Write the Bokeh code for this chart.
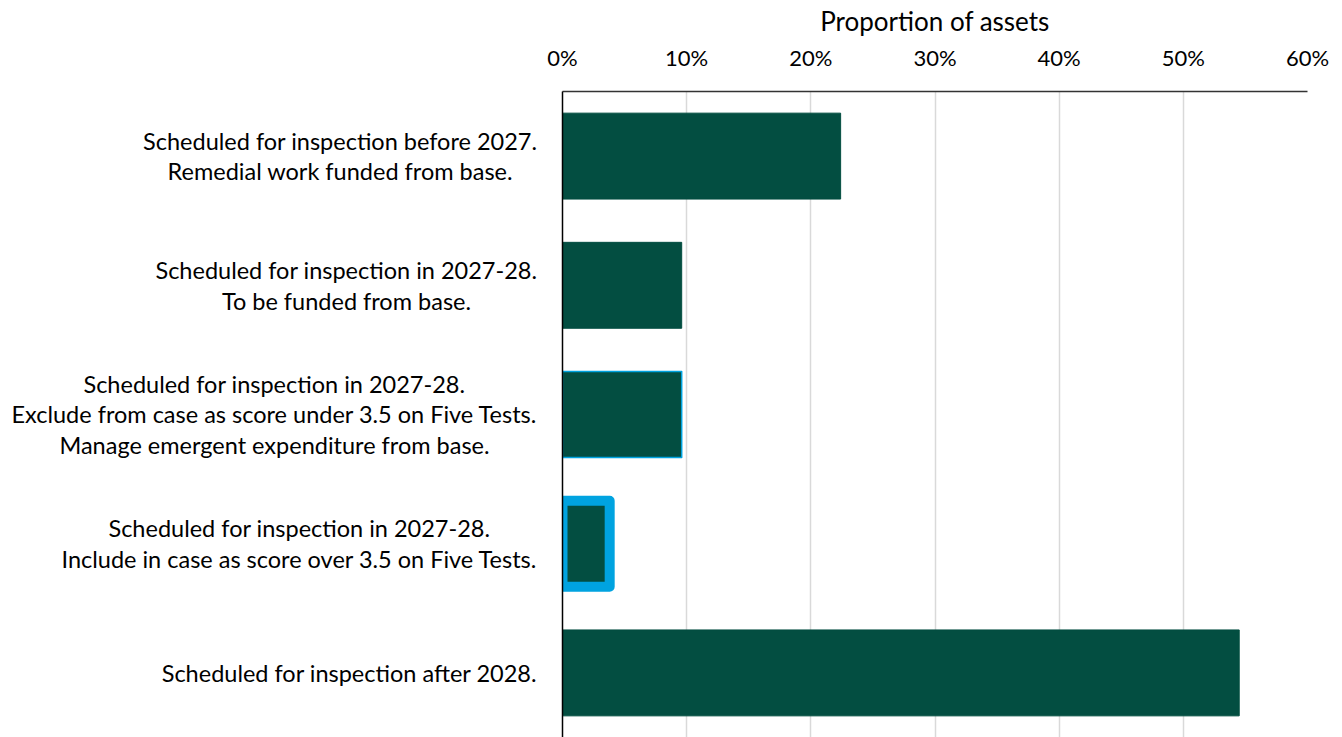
from bokeh.plotting import figure
from bokeh.layouts import row
from bokeh.models import FactorRange, FixedTicker, NumeralTickFormatter, ColumnDataSource, Label
from bokeh.embed import file_html
from bokeh.resources import INLINE

categories = [
    "Scheduled for inspection before 2027.\nRemedial work funded from base.",
    "Scheduled for inspection in 2027-28.\nTo be funded from base.",
    "Scheduled for inspection in 2027-28.\nExclude from case as score under 3.5 on Five Tests.\nManage emergent expenditure from base.",
    "Scheduled for inspection in 2027-28.\nInclude in case as score over 3.5 on Five Tests.",
    "Scheduled for inspection after 2028.",
]
values = [0.224, 0.096, 0.096, 0.038, 0.545]
x_ticks = [0.0, 0.1, 0.2, 0.3, 0.4, 0.5, 0.6]

FONT = "Lato"
BAR = "#034e41"
BLUE = "#00a3e0"

line_colors = [BAR, BAR, BLUE, BLUE, BAR]
line_widths = [1, 1, 1.5, 10, 1]

src = ColumnDataSource(dict(cat=categories, val=values, lc=line_colors, lw=line_widths))

factors = list(reversed(categories))
yr = FactorRange(factors=factors, range_padding=0)

LEFT_W = 542
TOTAL_W = 1342
H = 737

# ---- label panel (left) ----
lab = figure(
    width=LEFT_W, height=H, y_range=yr, x_range=(0, 1),
    x_axis_location=None, y_axis_location=None,
    output_backend="svg", toolbar_location=None,
    min_border_left=0, min_border_right=0, min_border_top=91, min_border_bottom=0,
)
lab.outline_line_color = None
lab.xgrid.visible = False
lab.ygrid.visible = False
for cat in categories:
    lab.add_layout(Label(
        x=1, y=factors.index(cat) + 0.5, x_offset=-5,
        text=cat, anchor="center_right", text_align="center",
        text_font=FONT, text_font_size="23.5px", text_color="#000000",
        text_line_height=1.1,
    ))

# ---- chart ----
p = figure(
    width=TOTAL_W - LEFT_W, height=H,
    y_range=yr, x_range=(0, 0.6),
    x_axis_location="above",
    output_backend="svg", toolbar_location=None,
    min_border_left=20, min_border_right=35, min_border_top=91, min_border_bottom=0,
)
p.outline_line_color = None
p.background_fill_color = "white"
p.border_fill_color = "white"

p.hbar(y="cat", left=0, right="val", height=0.665, source=src,
       fill_color=BAR, line_color="lc", line_width="lw", line_join="round")

xa = p.xaxis[0]
xa.ticker = FixedTicker(ticks=x_ticks)
xa.formatter = NumeralTickFormatter(format="0%")
xa.axis_label = "Proportion of assets"
xa.axis_label_text_font = FONT
xa.axis_label_text_font_style = "normal"
xa.axis_label_text_font_size = "26px"
xa.axis_label_text_color = "#000000"
xa.axis_label_standoff = 4
xa.major_label_text_font = FONT
xa.major_label_text_font_size = "22px"
xa.major_label_text_color = "#000000"
xa.major_label_standoff = 15
xa.major_tick_line_color = None
xa.minor_tick_line_color = None
xa.axis_line_color = "#333333"
xa.axis_line_width = 1.5

ya = p.yaxis[0]
ya.major_label_text_color = None
ya.major_label_text_font_size = "1px"
ya.major_label_standoff = 0
ya.major_tick_line_color = None
ya.minor_tick_line_color = None
ya.axis_line_color = "#000000"
ya.axis_line_width = 1.5

p.xgrid.grid_line_color = "#d9d9d9"
p.xgrid.grid_line_width = 1.5
p.ygrid.grid_line_color = None

layout = row(lab, p)
open("out.html", "w").write(file_html(layout, INLINE))
